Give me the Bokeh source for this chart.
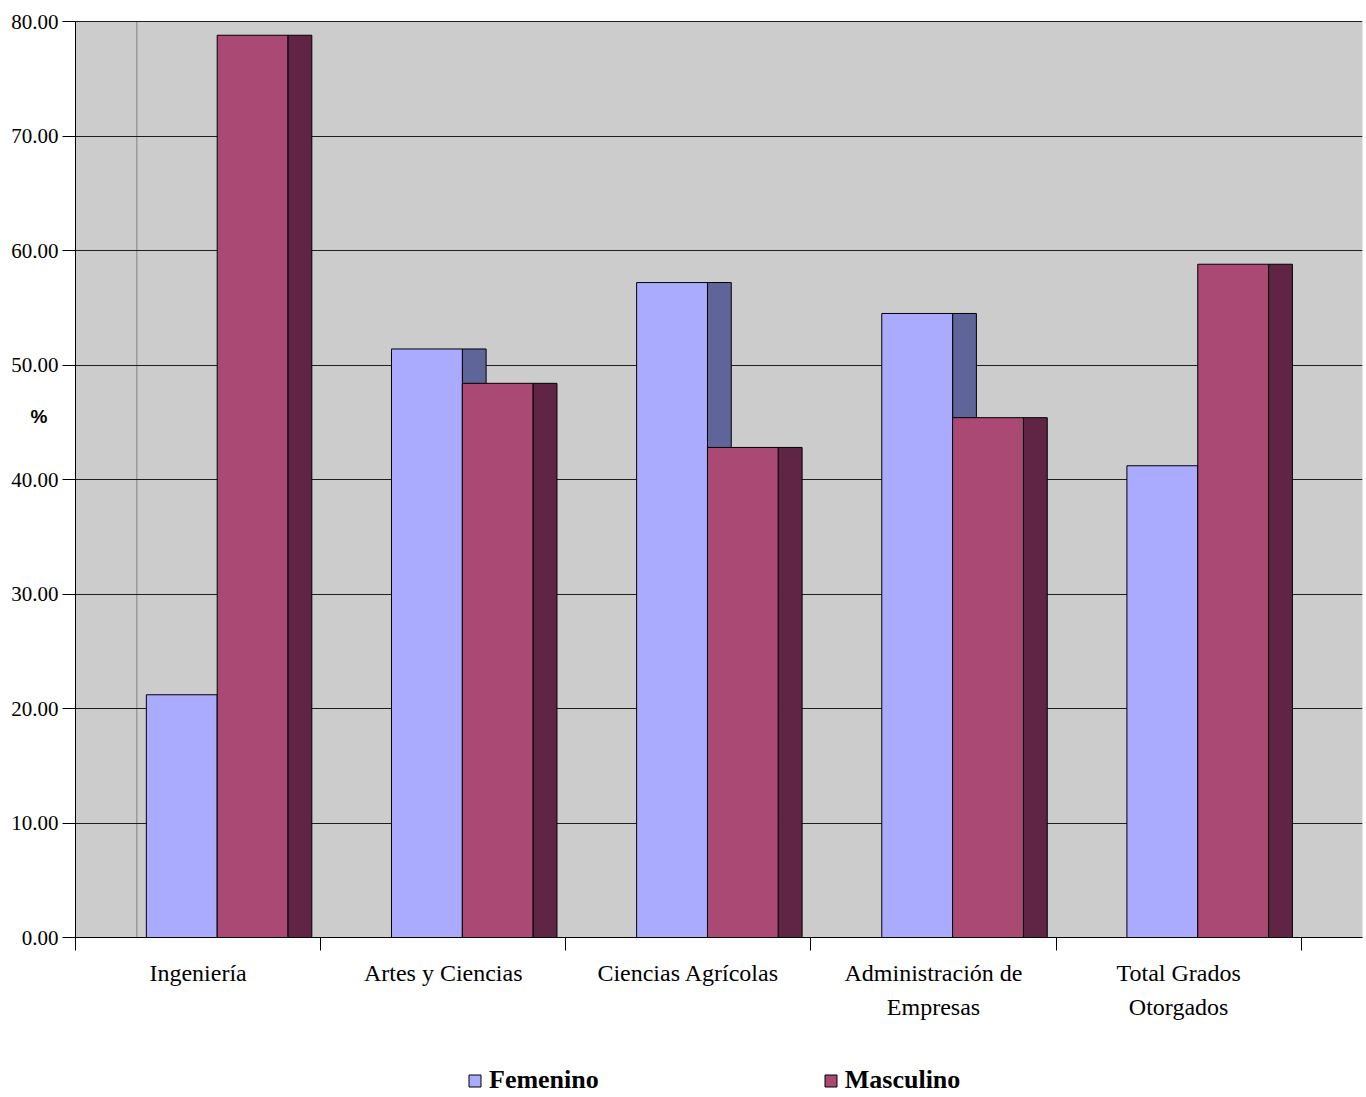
import numpy as np
from bokeh.plotting import figure
from bokeh.models import (FixedTicker, NumeralTickFormatter, LinearAxis, Range1d,
                          BoxAnnotation, Legend, LegendItem, ColumnDataSource,
                          Grid, Label)
from bokeh.embed import file_html
from bokeh.resources import INLINE

categories = ["Ingeniería", "Artes y Ciencias", "Ciencias Agrícolas",
              "Administración de\nEmpresas", "Total Grados\nOtorgados"]
femenino = [21.2, 51.4, 57.2, 54.5, 41.2]
masculino = [78.8, 48.4, 42.8, 45.4, 58.8]
series_names = ["Femenino", "Masculino"]
y_ticks = [0, 10, 20, 30, 40, 50, 60, 70, 80]
y_label = "%"
y_label_at = 45.5

# styling / layout constants
F_FACE, F_SIDE = "#aaaaff", "#5f6599"
M_FACE, M_SIDE = "#a94974", "#602545"
BAR_W = 0.289
F_OFF = -0.211
SIDE_W = 0.097
DEPTH = 0.25
SERIF = "Liberation Serif"
W, H = 1366, 1097
TOP_PX, ZERO_PX = 21, 937          # pixel rows of the value axis ends
LEFT_PX, RIGHT_PX = 75, 1362       # pixel columns of the plot area
LABEL_PX = 38.5                    # pixel column of the "%" label centre
LEGEND_PX = 467                    # pixel column where the legend starts

x_start = -0.5
x_end = len(categories) - 0.5 + DEPTH
py_unit = (ZERO_PX - TOP_PX) / (y_ticks[-1] - y_ticks[0])
px_unit = (RIGHT_PX - LEFT_PX) / (x_end - x_start)
y_min = y_ticks[0] - (H - ZERO_PX) / py_unit      # room below for labels/legend
y_max = y_ticks[-1] + TOP_PX / py_unit            # room above for top label
x_min = x_start - LEFT_PX / px_unit               # room left for value labels

idx = np.arange(len(categories), dtype=float)
f_left = idx + F_OFF
f_right = f_left + BAR_W
m_left = f_right
m_right = m_left + BAR_W
side_right = m_right + SIDE_W
zeros = np.zeros(len(categories))

src = ColumnDataSource(dict(f_left=f_left, f_right=f_right, m_left=m_left,
                            m_right=m_right, side_right=side_right,
                            fside_right=f_right + SIDE_W,
                            fem=femenino, mas=masculino, bottom=zeros))

p = figure(width=W, height=H, x_range=Range1d(x_min, x_end),
           y_range=Range1d(y_min, y_max),
           output_backend="svg", toolbar_location=None,
           x_axis_type=None, y_axis_type=None,
           min_border_left=0, min_border_right=W - RIGHT_PX,
           min_border_top=0, min_border_bottom=0)
p.background_fill_color = "white"
p.border_fill_color = "white"
p.outline_line_color = None

# gray plot area (value range only)
p.add_layout(BoxAnnotation(left=x_start, bottom=y_ticks[0], top=y_ticks[-1],
                           fill_color="#cccccc", fill_alpha=1,
                           line_color="#9a9a9a", line_width=1, level="image"))

# value axis: ticks ...
ya = LinearAxis(ticker=FixedTicker(ticks=y_ticks), fixed_location=x_start,
                bounds=(y_ticks[0], y_ticks[-1]),
                major_label_overrides={t: "" for t in y_ticks},
                major_label_text_font_size="0px", major_label_standoff=0,
                major_tick_out=13, major_tick_in=0, minor_tick_line_color=None,
                axis_line_color="black", major_tick_line_color="black")
p.add_layout(ya, "left")
# ... and labels
yb = LinearAxis(ticker=FixedTicker(ticks=y_ticks), fixed_location=x_start,
                formatter=NumeralTickFormatter(format="0.00"),
                major_tick_out=0, major_tick_in=0, minor_tick_line_color=None,
                major_tick_line_color=None, axis_line_color=None,
                major_label_standoff=17, major_label_text_font=SERIF,
                major_label_text_font_size="21px", major_label_text_color="black")
p.add_layout(yb, "left")

p.add_layout(Grid(dimension=1, ticker=FixedTicker(ticks=y_ticks),
                  grid_line_color="#1e1e1e", grid_line_width=1,
                  cross_bounds=(x_start, x_end)))

p.add_layout(Label(x=x_start - (LEFT_PX - LABEL_PX) / px_unit, y=y_label_at,
                   text=y_label, text_font="Liberation Sans",
                   text_font_style="bold", text_font_size="19px",
                   text_align="center", text_baseline="middle",
                   text_color="black"))

# category boundary axis at y = 0
bounds = list(np.arange(len(categories) + 1) - 0.5)
xa1 = LinearAxis(ticker=FixedTicker(ticks=bounds), fixed_location=y_ticks[0],
                 bounds=(x_start, x_end),
                 major_label_overrides={b: "" for b in bounds},
                 major_label_text_font_size="0px", major_label_standoff=0,
                 major_tick_out=13, major_tick_in=0,
                 minor_tick_line_color=None, axis_line_color="black",
                 major_tick_line_color="black")
p.add_layout(xa1, "below")

xa2 = LinearAxis(ticker=FixedTicker(ticks=list(idx)), fixed_location=y_ticks[0],
                 major_label_overrides={float(i): c for i, c in zip(idx, categories)},
                 major_tick_out=0, major_tick_in=0, minor_tick_line_color=None,
                 major_tick_line_color=None, axis_line_color=None,
                 major_label_standoff=22, major_label_text_font=SERIF,
                 major_label_text_font_size="24px",
                 major_label_text_line_height=1.32,
                 major_label_text_color="black")
p.add_layout(xa2, "below")

# back wall edge line
p.segment(x0=[x_start + DEPTH], y0=[y_ticks[0]], x1=[x_start + DEPTH],
          y1=[y_ticks[-1]], line_color="#9a9a9a", line_width=1.5, level="underlay")

# bars
p.quad(left="f_right", right="fside_right", bottom="bottom", top="fem",
       source=src, fill_color=F_SIDE, line_color="black", line_width=1)
rf = p.quad(left="f_left", right="f_right", bottom="bottom", top="fem",
            source=src, fill_color=F_FACE, line_color="black", line_width=1)
rm = p.quad(left="m_left", right="m_right", bottom="bottom", top="mas",
            source=src, fill_color=M_FACE, line_color="black", line_width=1)
p.quad(left="m_right", right="side_right", bottom="bottom", top="mas",
       source=src, fill_color=M_SIDE, line_color="black", line_width=1)

legend = Legend(items=[LegendItem(label=series_names[0], renderers=[rf]),
                       LegendItem(label=series_names[1], renderers=[rm])],
                orientation="horizontal", location=(LEGEND_PX, 2),
                spacing=224, glyph_width=15, glyph_height=15,
                label_standoff=7, padding=0, margin=0,
                label_text_font=SERIF, label_text_font_style="bold",
                label_text_font_size="26px", label_text_color="black",
                border_line_color=None, background_fill_alpha=0)
p.add_layout(legend)

open("out.html", "w").write(file_html(p, INLINE))
